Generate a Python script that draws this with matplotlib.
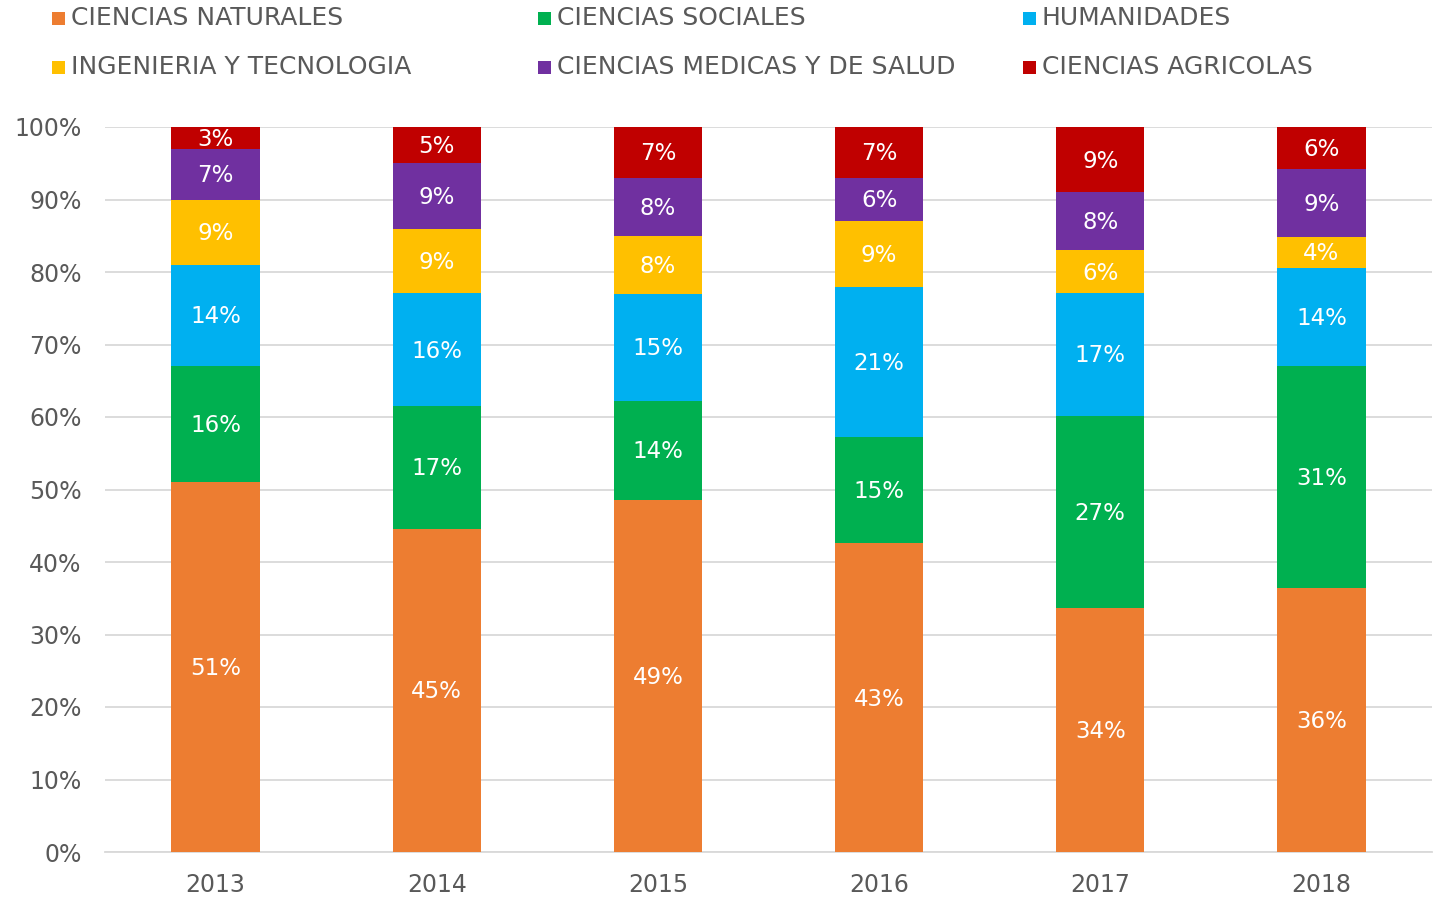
import matplotlib
matplotlib.use("Agg")
import matplotlib.pyplot as plt
from matplotlib.patches import Rectangle
import numpy as np

years = ["2013", "2014", "2015", "2016", "2017", "2018"]
series_names = ["CIENCIAS NATURALES", "CIENCIAS SOCIALES", "HUMANIDADES",
                "INGENIERIA Y TECNOLOGIA", "CIENCIAS MEDICAS Y DE SALUD", "CIENCIAS AGRICOLAS"]
naturales = [51.0, 44.6, 48.6, 42.6, 33.6, 36.4]
sociales = [16.0, 16.9, 13.6, 14.6, 26.6, 30.6]
humanidades = [14.0, 15.6, 14.8, 20.7, 16.9, 13.6]
ingenieria = [9.0, 8.9, 8.0, 9.1, 5.9, 4.2]
medicas = [7.0, 9.0, 8.0, 6.0, 8.0, 9.4]
agricolas = [3.0, 5.0, 7.0, 7.0, 9.0, 5.8]
colors = ["#ED7D31", "#00B050", "#00B0F0", "#FFC000", "#7030A0", "#C00000"]

plt.rcParams['font.family'] = ['DejaVu Sans']
W, H = 1437, 898
fig = plt.figure(figsize=(W / 100, H / 100), dpi=100)
ax = fig.add_axes([105 / W, 46 / H, 1327 / W, 725 / H])

x = np.arange(len(years))
bottom = np.zeros(len(years))
data = [naturales, sociales, humanidades, ingenieria, medicas, agricolas]
for name, vals, c in zip(series_names, data, colors):
    vals = np.array(vals)
    ax.bar(x, vals, width=0.4, bottom=bottom, color=c, zorder=3)
    for xi, b, v in zip(x, bottom, vals):
        ax.text(xi, b + v / 2 - 0.2, f"{int(round(v))}%", ha='center', va='center',
                color='white', fontsize=16.5, zorder=4)
    bottom += vals

ax.set_xlim(-0.5, 5.5)
ax.set_ylim(0, 100)
ax.set_yticks(np.arange(0, 101, 10))
ax.set_yticklabels([f"{v}%" for v in range(0, 101, 10)])
ax.set_xticks(x)
ax.set_xticklabels(years)
ax.tick_params(axis='both', length=0, labelsize=17, colors='#595959')
ax.tick_params(axis='y', pad=17)
ax.tick_params(axis='x', pad=15)
ax.grid(axis='y', color='#D9D9D9', linewidth=1.3, zorder=0)
for s in ['top', 'right', 'left']:
    ax.spines[s].set_visible(False)
ax.spines['bottom'].set_color('#D9D9D9')
ax.spines['bottom'].set_linewidth(1.3)

# legend drawn in figure pixel coordinates
col_x = [52, 538, 1023]
row_y = [18, 67]
for i, (name, c) in enumerate(zip(series_names, colors)):
    cx = col_x[i % 3]
    cy = row_y[i // 3]
    fig.patches.append(Rectangle((cx / W, 1 - (cy + 6.5) / H), 13 / W, 13 / H,
                                 transform=fig.transFigure, facecolor=c,
                                 edgecolor='none'))
    fig.text((cx + 19) / W, 1 - cy / H, name, ha='left', va='center',
             fontsize=18, color='#595959')

fig.savefig("out.png", dpi=100)
